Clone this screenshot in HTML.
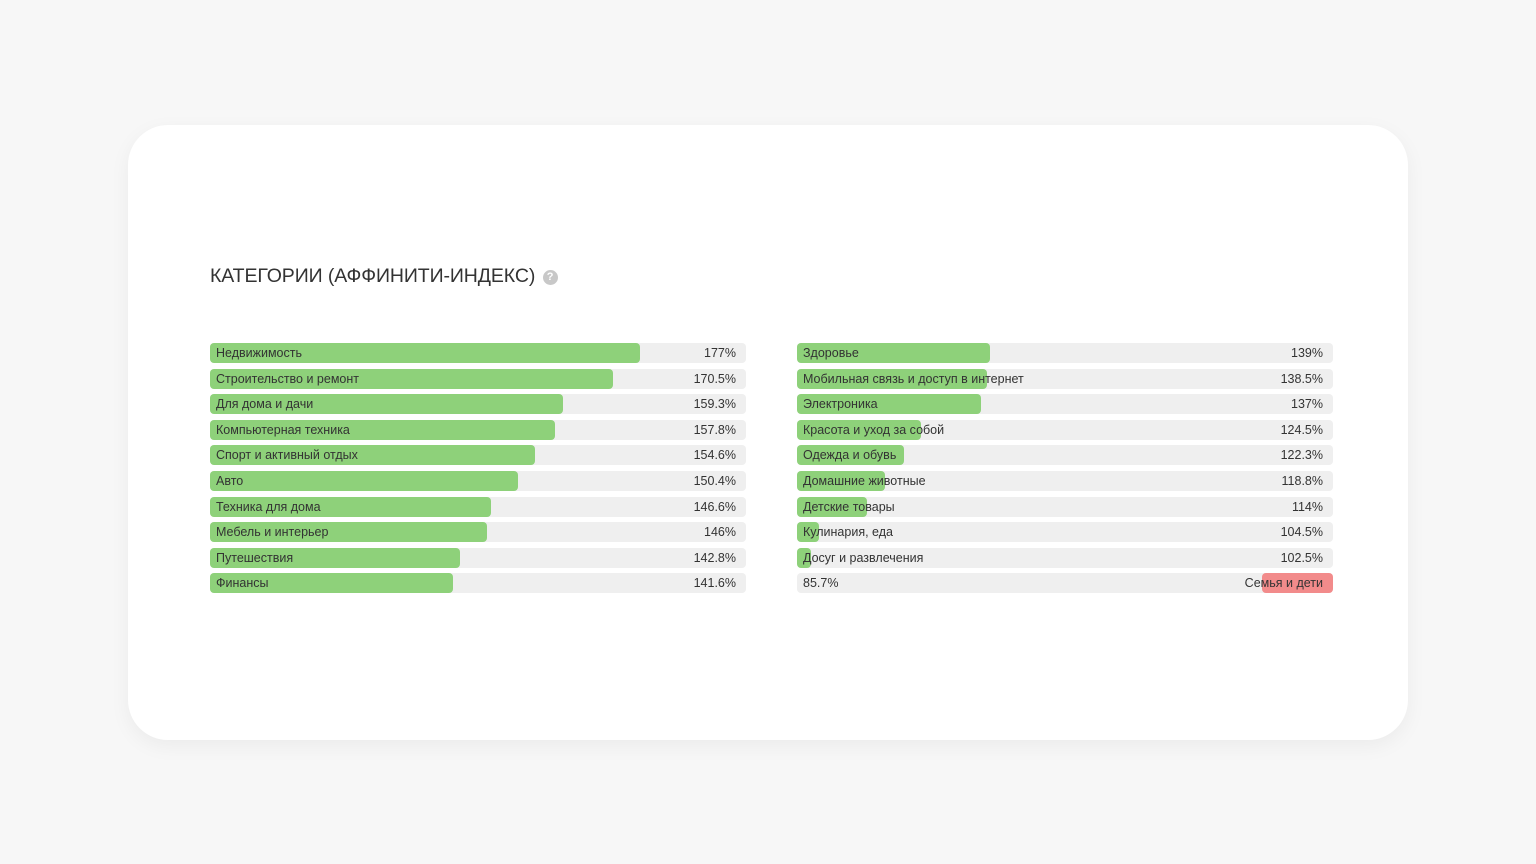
<!DOCTYPE html>
<html><head><meta charset="utf-8"><style>
body{margin:0;width:1536px;height:864px;background:#f7f7f7;font-family:"Liberation Sans",sans-serif;position:relative;overflow:hidden}
.card{position:absolute;left:128px;top:125px;width:1280px;height:615px;background:#fff;border-radius:40px;box-shadow:0 6px 20px rgba(0,0,0,.05)}
.t{position:absolute;left:210px;top:265px;font-size:19.5px;color:#333;letter-spacing:-0.1px}
.q{display:inline-block;width:15px;height:15px;border-radius:50%;background:#c8c8c8;color:#fff;font-size:11px;text-align:center;line-height:15px;vertical-align:2px;font-weight:bold;margin-left:2px}
.r{position:absolute;height:20px;background:#efefef;border-radius:4px;width:536px;font-size:12.5px;color:#333;line-height:20px}
.b{position:absolute;top:0;height:20px;background:#8ed17a;border-radius:4px}
.l{position:absolute;left:6px;top:0}
.v{position:absolute;right:10px;top:0}
</style></head><body>
<div class="card"></div>
<div class="t">КАТЕГОРИИ (АФФИНИТИ-ИНДЕКС) <span class="q">?</span></div>
<div id="c"></div>
<script>
const L=[["Недвижимость","177%",640],["Строительство и ремонт","170.5%",613],["Для дома и дачи","159.3%",563],["Компьютерная техника","157.8%",555],["Спорт и активный отдых","154.6%",535],["Авто","150.4%",518],["Техника для дома","146.6%",491],["Мебель и интерьер","146%",487],["Путешествия","142.8%",460],["Финансы","141.6%",453]];
const R=[["Здоровье","139%",990],["Мобильная связь и доступ в интернет","138.5%",987],["Электроника","137%",981],["Красота и уход за собой","124.5%",921],["Одежда и обувь","122.3%",904],["Домашние животные","118.8%",885],["Детские товары","114%",867],["Кулинария, еда","104.5%",819],["Досуг и развлечения","102.5%",811]];
let h="";
L.forEach((d,i)=>{h+=`<div class="r" style="left:210px;top:${343+i*25.6}px"><div class="b" style="left:0;width:${d[2]-210}px"></div><span class="l">${d[0]}</span><span class="v">${d[1]}</span></div>`});
R.forEach((d,i)=>{h+=`<div class="r" style="left:797px;top:${343+i*25.6}px"><div class="b" style="left:0;width:${d[2]-797}px"></div><span class="l">${d[0]}</span><span class="v">${d[1]}</span></div>`});
h+=`<div class="r" style="left:797px;top:${343+9*25.6}px"><div class="b" style="left:465px;width:71px;background:#f28b8b"></div><span class="l">85.7%</span><span class="v">Семья и дети</span></div>`;
document.getElementById("c").innerHTML=h;
</script>
</body></html>
